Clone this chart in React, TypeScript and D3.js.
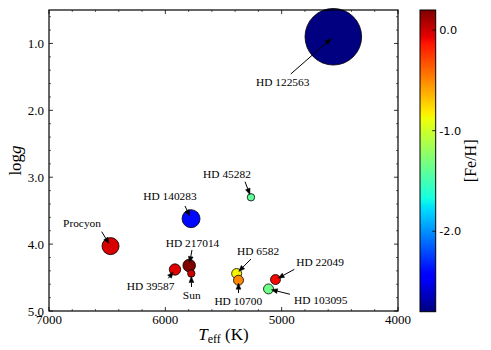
import React from "react";
import * as d3 from "d3";

// ---- data ----
const stars = ["HD 122563", "Procyon", "HD 140283", "HD 217014", "Sun", "HD 39587", "HD 45282", "HD 6582", "HD 10700", "HD 22049", "HD 103095"];
const teff = [4556, 6471, 5779, 5795, 5777, 5917, 5264, 5387, 5371, 5053, 5113];
const logg = [0.9, 4.03, 3.62, 4.32, 4.44, 4.38, 3.3, 4.44, 4.54, 4.53, 4.67];
const feh = [-2.8, -0.03, -2.4, 0.2, 0.0, -0.05, -1.4, -0.85, -0.5, -0.1, -1.35];
const relSize = [7.65, 2.3, 2.43, 1.7, 1.0, 1.54, 1.0, 1.35, 1.35, 1.35, 1.35];

// annotation text positions and arrow starts (data coordinates)
const labelTeff = [4991, 6716, 5960, 5766, 5773, 6127, 5470, 5203, 5373, 4670, 4664];
const labelLogg = [1.572, 3.689, 3.281, 3.979, 4.761, 4.626, 2.952, 4.098, 4.846, 4.272, 4.835];
const arrowTeff = [4922, 6547, 5831, 5771, 5775, 5974, 5315, 5264, 5371, 4891, 4928];
const arrowLogg = [1.457, 3.814, 3.43, 4.088, 4.641, 4.511, 3.067, 4.223, 4.731, 4.377, 4.75];

const xMajor = [7000, 6000, 5000, 4000];
const yMajor = [1.0, 2.0, 3.0, 4.0, 5.0];
const cbTicks = [0.0, -1.0, -2.0];
const fehRange = [-2.8, 0.2];

// matplotlib jet segment data
const jetR = [[0, 0], [0.35, 0], [0.66, 1], [0.89, 1], [1, 0.5]];
const jetG = [[0, 0], [0.125, 0], [0.375, 1], [0.64, 1], [0.91, 0], [1, 0]];
const jetB = [[0, 0.5], [0.11, 1], [0.34, 1], [0.65, 0], [1, 0]];
const chan = (seg: number[][]) => d3.scaleLinear().domain(seg.map(s => s[0])).range(seg.map(s => s[1])).clamp(true);
const rS = chan(jetR), gS = chan(jetG), bS = chan(jetB);
const jet = (t: number) => d3.rgb(Math.round(rS(t) * 255), Math.round(gS(t) * 255), Math.round(bS(t) * 255)).toString();

const W = 491, H = 350;
const L = 49, R = 398, T = 10, B = 311;
const serif = "'Liberation Serif', 'Times New Roman', serif";
const sans = "'DejaVu Sans', sans-serif";

export default function App() {
  const x = d3.scaleLinear().domain([7000, 4000]).range([L, R]);
  const y = d3.scaleLinear().domain([0.5, 5.0]).range([T, B]);
  const cNorm = d3.scaleLinear().domain(fehRange).range([0, 1]).clamp(true);
  const rScale = d3.scaleLinear().domain([0, 1]).range([0, 3.7]);

  const cbL = 420, cbR = 435.7, cbT = 10, cbB = 311.7;
  const cbY = d3.scaleLinear().domain(fehRange).range([cbB, cbT]);

  const xMinor = d3.range(4000, 7001, 200).filter(v => !xMajor.includes(v));
  const yMinor = d3.range(6, 50, 2).map(v => v / 10).filter(v => !yMajor.some(m => Math.abs(m - v) < 1e-6));

  const stops = d3.range(0, 101).map(i => i / 100);

  const arrows = stars.map((s, i) => {
    const x0 = x(arrowTeff[i]), y0 = y(arrowLogg[i]);
    const x1 = x(teff[i]), y1 = y(logg[i]);
    const dx = x1 - x0, dy = y1 - y0;
    const len = Math.hypot(dx, dy);
    const ux = dx / len, uy = dy / len;
    const shrink = 3;
    const tx = x1 - ux * shrink, ty = y1 - uy * shrink;
    const hl = 6, hw = 2.4;
    const bx = tx - ux * hl, by = ty - uy * hl;
    const px = -uy, py = ux;
    const head = `M${tx},${ty}L${bx + px * hw},${by + py * hw}L${bx - px * hw},${by - py * hw}Z`;
    return { x0, y0, bx, by, head };
  });

  return (
    <svg width={W} height={H} style={{ position: "absolute", left: 0, top: 0, background: "#fff" }}>
      <defs>
        <linearGradient id="jetgrad" x1="0" y1="1" x2="0" y2="0">
          {stops.map(t => (
            <stop key={t} offset={t} stopColor={jet(t)} />
          ))}
        </linearGradient>
      </defs>
      <rect x={0} y={0} width={W} height={H} fill="#fff" />

      {/* points */}
      {stars.map((s, i) => (
        <circle key={s} cx={x(teff[i])} cy={y(logg[i])} r={rScale(relSize[i])}
          fill={jet(cNorm(feh[i]))} stroke="#000" strokeWidth={0.8} />
      ))}

      {/* annotations */}
      {stars.map((s, i) => (
        <g key={"a" + s}>
          <line x1={arrows[i].x0} y1={arrows[i].y0} x2={arrows[i].bx} y2={arrows[i].by} stroke="#000" strokeWidth={1} />
          <path d={arrows[i].head} fill="#000" stroke="#000" strokeWidth={0.5} />
          <text x={x(labelTeff[i])} y={y(labelLogg[i])} dy="0.35em" textAnchor="middle"
            fontFamily={serif} fontSize={11.4} fill="#000">{s}</text>
        </g>
      ))}

      {/* frame */}
      <rect x={L} y={T} width={R - L} height={B - T} fill="none" stroke="#000" strokeWidth={1.2} />

      {/* x ticks */}
      {xMajor.map(v => (
        <g key={"xM" + v}>
          <line x1={x(v)} x2={x(v)} y1={B} y2={B - 4} stroke="#000" strokeWidth={0.8} />
          <line x1={x(v)} x2={x(v)} y1={T} y2={T + 4} stroke="#000" strokeWidth={0.8} />
          <text x={x(v)} y={B + 13} textAnchor="middle" fontFamily={serif} fontSize={13}>{v}</text>
        </g>
      ))}
      {xMinor.map(v => (
        <g key={"xm" + v}>
          <line x1={x(v)} x2={x(v)} y1={B} y2={B - 2} stroke="#000" strokeWidth={0.6} />
          <line x1={x(v)} x2={x(v)} y1={T} y2={T + 2} stroke="#000" strokeWidth={0.6} />
        </g>
      ))}
      {/* y ticks */}
      {yMajor.map(v => (
        <g key={"yM" + v}>
          <line x1={L} x2={L + 4} y1={y(v)} y2={y(v)} stroke="#000" strokeWidth={0.8} />
          <line x1={R} x2={R - 4} y1={y(v)} y2={y(v)} stroke="#000" strokeWidth={0.8} />
          <text x={L - 5} y={y(v)} dy="0.35em" textAnchor="end" fontFamily={serif} fontSize={13}>{v.toFixed(1)}</text>
        </g>
      ))}
      {yMinor.map(v => (
        <g key={"ym" + v}>
          <line x1={L} x2={L + 2} y1={y(v)} y2={y(v)} stroke="#000" strokeWidth={0.6} />
          <line x1={R} x2={R - 2} y1={y(v)} y2={y(v)} stroke="#000" strokeWidth={0.6} />
        </g>
      ))}

      {/* axis labels */}
      <text x={(L + R) / 2} y={340} textAnchor="middle" fontFamily={serif} fontSize={17}>
        <tspan fontStyle="italic">T</tspan>
        <tspan fontSize={12} dy={3}>eff</tspan>
        <tspan dy={-3}>{" (K)"}</tspan>
      </text>
      <text transform={`translate(21,${(T + B) / 2}) rotate(-90)`} textAnchor="middle" fontFamily={serif} fontSize={17}>
        <tspan>log</tspan>
        <tspan fontStyle="italic">g</tspan>
      </text>

      {/* colorbar */}
      <rect x={cbL} y={cbT} width={cbR - cbL} height={cbB - cbT} fill="url(#jetgrad)" stroke="#000" strokeWidth={1} />
      {cbTicks.map(v => (
        <g key={"cb" + v}>
          <line x1={cbR} x2={cbR - 3.5} y1={cbY(v)} y2={cbY(v)} stroke="#000" strokeWidth={0.8} />
          <text x={cbR + 3.5} y={cbY(v)} dy="0.35em" fontFamily={sans} fontSize={11.3}>{v.toFixed(1)}</text>
        </g>
      ))}
      <text transform={`translate(476,${(cbT + cbB) / 2}) rotate(-90)`} textAnchor="middle" fontFamily={serif} fontSize={16}>[Fe/H]</text>
    </svg>
  );
}
